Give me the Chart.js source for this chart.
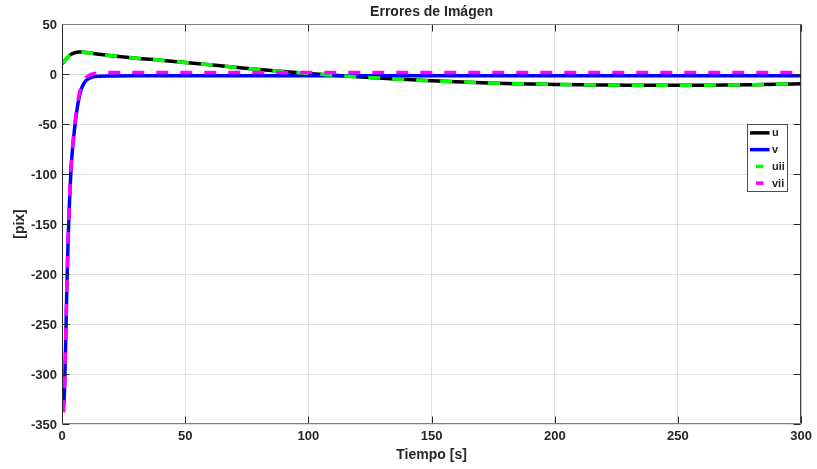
<!DOCTYPE html>
<html>
<head>
<meta charset="utf-8">
<title>Errores de Imágen</title>
<style> body { margin:0; background:#fff; } canvas { display:block; } </style>
<script src="https://cdn.jsdelivr.net/npm/chart.js@4.4.1/dist/chart.umd.min.js"></script>
</head>
<body>
<canvas id="erroresChart" width="817" height="469"></canvas>
<script>
// tiempo de simulacion [s]
const tiempo = [0,0.5,1,1.5,2,2.5,3,3.5,4,5,6,7,8,9,10,12,15,20,
  30,40,50,60,70,80,90,100,110,120,130,140,150,160,170,180,190,200,210,220,230,240,250,260,270,280,290,300];

// error en u (real) y uii (estimado)
const u = [10,11.5,13,14.5,16,17.3,18.5,19.4,20.1,21.1,21.7,21.9,21.9,21.7,21.4,20.8,19.8,18.3,
  15.8,13.8,11.6,9.2,6.8,4.5,2.4,0.5,-1.2,-2.8,-4.2,-5.6,-6.8,-7.8,-8.7,-9.4,-10,-10.4,-10.8,-11,-11.2,-11.3,-11.3,-11.2,-11,-10.7,-10.3,-9.8];
const uii = [10,11.5,13,14.5,16,17.3,18.5,19.4,20.1,21.1,21.7,21.9,21.9,21.7,21.4,20.8,19.8,18.3,
  15.8,13.8,11.6,9.2,6.8,4.5,2.4,0.5,-1.2,-2.8,-4.2,-5.6,-6.8,-7.8,-8.7,-9.4,-10,-10.4,-10.8,-11,-11.2,-11.3,-11.3,-11.2,-11,-10.7,-10.3,-9.8];

// error en v (real) y vii (estimado)
const v = [-337,-334,-318,-268,-210,-165,-130,-103,-83,-57,-37,-23,-14,-9,-6,-3.3,-2.2,-1.9,
  -1.8,-1.8,-1.8,-1.8,-1.8,-1.8,-1.8,-1.8,-1.8,-1.8,-1.8,-1.8,-1.8,-1.8,-1.8,-1.8,-1.8,-1.8,-1.8,-1.8,-1.8,-1.8,-1.8,-1.8,-1.8,-1.8,-1.8,-1.8];
const vii = [-362,-345,-316,-266,-209,-163,-128,-101,-81,-55,-34,-20,-11,-6,-3,-0.2,1.1,1.4,
  1.5,1.5,1.5,1.5,1.5,1.5,1.5,1.5,1.5,1.5,1.5,1.5,1.5,1.5,1.5,1.5,1.5,1.5,1.5,1.5,1.5,1.5,1.5,1.5,1.5,1.5,1.5,1.5];

const FUENTE = '"Liberation Sans", Arial, Helvetica, sans-serif';
const TEXTO = '#262626';

function puntos(ys){ return tiempo.map((t,i) => ({x:t, y:ys[i]})); }

// marco tipo matlab: caja, ticks hacia adentro, titulo y leyenda
const marcoEjes = {
  id: 'marcoEjes',
  afterDatasetsDraw(chart) {
    const c = chart.ctx, a = chart.chartArea, sx = chart.scales.x, sy = chart.scales.y;
    const L = a.left + 0.5, R = a.right - 0.5, T = a.top + 0.5, B = a.bottom - 0.5;
    c.save();
    c.lineWidth = 1;
    c.strokeStyle = TEXTO;
    c.beginPath();
    sx.ticks.forEach(t => {
      const px = Math.round(sx.getPixelForValue(t.value)) + 0.5;
      c.moveTo(px, B); c.lineTo(px, B - 7);
      c.moveTo(px, T); c.lineTo(px, T + 7);
    });
    sy.ticks.forEach(t => {
      const py = Math.round(sy.getPixelForValue(t.value)) + 0.5;
      c.moveTo(L, py); c.lineTo(L + 7, py);
      c.moveTo(R, py); c.lineTo(R - 7, py);
    });
    c.stroke();
    // lados
    c.beginPath(); c.moveTo(L, T); c.lineTo(L, B); c.moveTo(R, T); c.lineTo(R, B); c.stroke();
    c.strokeStyle = '#7f7f7f';
    c.beginPath(); c.moveTo(L, T); c.lineTo(R, T); c.moveTo(L, B); c.lineTo(R, B); c.stroke();

    // titulo
    c.fillStyle = TEXTO;
    c.font = 'bold 14px ' + FUENTE;
    c.textAlign = 'center'; c.textBaseline = 'middle';
    c.fillText('Errores de Imágen', (a.left + a.right) / 2, 12.5);

    // leyenda
    const lx = 747.5, ly = 124.5, lw = 40, lh = 67;
    c.fillStyle = '#ffffff';
    c.fillRect(lx, ly, lw, lh);
    c.strokeStyle = '#4d4d4d';
    c.strokeRect(lx, ly, lw, lh);
    c.font = 'bold 11px ' + FUENTE;
    c.textAlign = 'left';
    chart.data.datasets.forEach((ds, i) => {
      const y = ly + lh / 4 * (i + 0.5);
      c.strokeStyle = ds.borderColor;
      c.lineWidth = 3.5;
      c.beginPath();
      if (ds.borderDash) { c.moveTo(lx + 8.5, y); c.lineTo(lx + 16, y); }
      else { c.moveTo(lx + 2.5, y); c.lineTo(lx + 22, y); }
      c.stroke();
      c.fillStyle = TEXTO;
      c.fillText(ds.label, lx + 24.5, y + 0.5);
    });
    c.restore();
  }
};

const ctx = document.getElementById('erroresChart').getContext('2d');
const erroresChart = new Chart(ctx, {
  type: 'line',
  data: {
    datasets: [
      { label: 'u', data: puntos(u), borderColor: '#000000', borderWidth: 3.5, order: 4 },
      { label: 'v', data: puntos(v), borderColor: '#0000ff', borderWidth: 3.5, order: 3 },
      { label: 'uii', data: puntos(uii), borderColor: '#00ff00', borderWidth: 3.5, borderDash: [12, 12], order: 2 },
      { label: 'vii', data: puntos(vii), borderColor: '#ff00ff', borderWidth: 3.5, borderDash: [12, 12], order: 1 }
    ]
  },
  options: {
    responsive: false,
    animation: false,
    devicePixelRatio: 1,
    layout: { padding: { top: 24, right: 15, left: 0, bottom: 0 } },
    elements: { point: { radius: 0 }, line: { cubicInterpolationMode: 'monotone', borderCapStyle: 'butt' } },
    plugins: { legend: { display: false }, title: { display: false }, tooltip: { enabled: false } },
    scales: {
      x: {
        type: 'linear', min: 0, max: 300,
        afterFit: s => { s.height = 45; },
        ticks: { stepSize: 50, color: TEXTO, padding: 5, font: { family: FUENTE, size: 13, weight: 'bold' } },
        grid: { color: '#dfdfdf', drawTicks: false },
        border: { display: false },
        title: { display: true, text: 'Tiempo [s]', color: TEXTO, padding: { top: 0, bottom: 5 },
          font: { family: FUENTE, size: 14, weight: 'bold' } }
      },
      y: {
        type: 'linear', min: -350, max: 50,
        afterFit: s => { s.width = 62; },
        ticks: { stepSize: 50, color: TEXTO, padding: 5, labelOffset: 1, font: { family: FUENTE, size: 13, weight: 'bold' } },
        grid: { color: '#dfdfdf', drawTicks: false },
        border: { display: false },
        title: { display: true, text: '[pix]', color: TEXTO, padding: { top: 12, bottom: 0 },
          font: { family: FUENTE, size: 14, weight: 'bold' } }
      }
    }
  },
  plugins: [marcoEjes]
});
</script>
</body>
</html>
